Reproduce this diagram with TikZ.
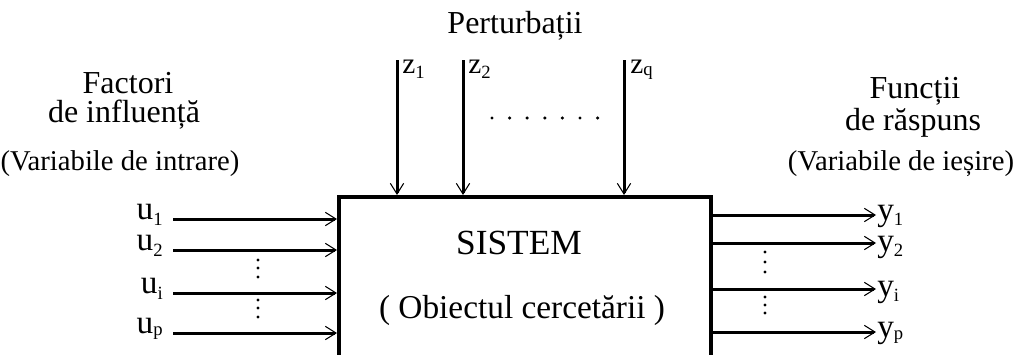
\documentclass[tikz,border=0pt]{standalone}
\usepackage{fontspec}
\setmainfont{Liberation Serif}
\usetikzlibrary{arrows.meta}
\newcommand\lblsub[3]{#1\raisebox{-#3}{\fontsize{14pt}{14pt}\selectfont #2}}
\begin{document}
\begin{tikzpicture}[x=0.75pt,y=-0.75pt,
  title/.style={font=\fontsize{24pt}{26pt}\selectfont, inner sep=0pt},
  subtitle/.style={font=\fontsize{21.5pt}{23pt}\selectfont, inner sep=0pt},
  boxtext/.style={font=\fontsize{25pt}{27pt}\selectfont, inner sep=0pt},
  var/.style={font=\fontsize{25pt}{26pt}\selectfont, inner sep=0pt},
  zvar/.style={font=\fontsize{22pt}{24pt}\selectfont, inner sep=0pt},
  sysbox/.style={draw, line width=3pt, rectangle, inner sep=0pt, anchor=north west},
  flow/.style={line width=2.25pt, -{Straight Barb[length=8pt,width=10pt,line width=0.8pt]}},
  dot/.style={circle, fill, inner sep=0pt, minimum size=2.6pt}
]
\useasboundingbox (0,0) rectangle (1018,354);
\clip (0,0) rectangle (1018,354);

% system box (open below the picture's edge)
\node[sysbox, minimum width=279pt, minimum height=180pt] (box) at (337,195) {};
\node[boxtext, anchor=base, font=\fontsize{26.5pt}{28pt}\selectfont] (sys) at (519,254) {SISTEM};
\node[boxtext, anchor=base] (obj) at (522,318) {( Obiectul cercetării )};

% titles
\node[title, anchor=base] (pert) at (515,33) {Perturbații};
\node[title, anchor=base] (fact) at (128,93) {Factori};
\node[title, anchor=base] (infl) at (124,122) {de influență};
\node[subtitle, anchor=base] (vin) at (120,170) {(Variabile de intrare)};
\node[title, anchor=base] (func) at (915,98) {Funcții};
\node[title, anchor=base] (rasp) at (913,130) {de răspuns};
\node[subtitle, anchor=base] (vout) at (901,170) {(Variabile de ieșire)};

% inputs
\coordinate (u1s) at (173,219);
\coordinate (u2s) at (173,250);
\coordinate (uis) at (173,293);
\coordinate (ups) at (173,333);
\node[var, anchor=base east] (u1) at (163,219) {\lblsub{u}{1}{5pt}};
\node[var, anchor=base east] (u2) at (163,250) {\lblsub{u}{2}{5pt}};
\node[var, anchor=base east] (ui) at (163,293) {\lblsub{u}{i}{5pt}};
\node[var, anchor=base east] (up) at (163,333) {\lblsub{u}{p}{2pt}};
\foreach \n in {u1s,u2s,uis,ups}
  \draw[flow] (\n) -- (box.west |- \n);

% outputs
\coordinate (y1e) at (876,215);
\coordinate (y2e) at (876,243);
\coordinate (yie) at (876,289);
\coordinate (ype) at (876,332);
\node[var, anchor=base west] (y1) at (877,220) {\lblsub{y}{1}{4pt}};
\node[var, anchor=base west] (y2) at (877,251) {\lblsub{y}{2}{4pt}};
\node[var, anchor=base west] (yi) at (877,296) {\lblsub{y}{i}{4pt}};
\node[var, anchor=base west] (yp) at (877,337) {\lblsub{y}{p}{2pt}};
\foreach \n in {y1e,y2e,yie,ype}
  \draw[flow] (box.east |- \n) -- (\n);

% disturbances
\coordinate (z1s) at (397,60);
\coordinate (z2s) at (463,60);
\coordinate (zqs) at (624,60);
\node[zvar, anchor=base west] (z1) at (402,73) {\lblsub{z}{1}{4pt}};
\node[zvar, anchor=base west] (z2) at (468,73) {\lblsub{z}{2}{4pt}};
\node[zvar, anchor=base west] (zq) at (630,73) {\lblsub{z}{q}{2pt}};
\foreach \n in {z1s,z2s,zqs}
  \draw[flow] (\n) -- (box.north -| \n);

% dots
\foreach \i in {0,...,6}
  \node[dot] (hd\i) at (492+\i*17.6,118) {};
\foreach \yy [count=\k] in {260,268,277,300,308,317}
  \node[dot] (ld\k) at (258,\yy) {};
\foreach \yy [count=\k] in {252,262,272,297,305,313}
  \node[dot] (rd\k) at (765,\yy) {};
\end{tikzpicture}
\end{document}
